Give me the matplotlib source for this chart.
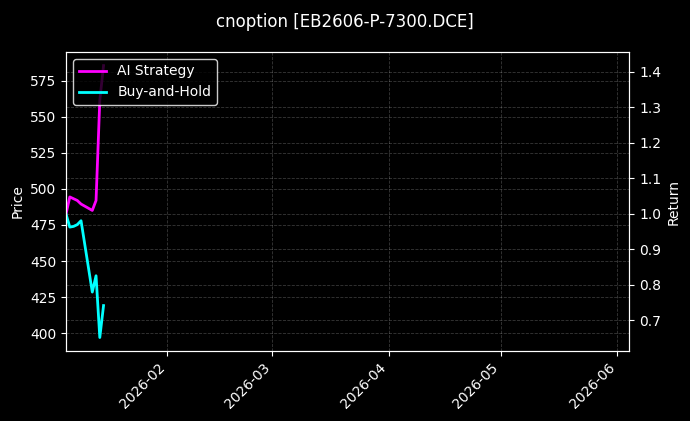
import numpy as np
import pandas as pd
import matplotlib
matplotlib.use('Agg')
from matplotlib import pyplot as plt
import matplotlib.dates as mdates

# trading days shown on the chart
dates = pd.to_datetime(['2026-01-05', '2026-01-06', '2026-01-07', '2026-01-08', '2026-01-09',
                        '2026-01-12', '2026-01-13', '2026-01-14', '2026-01-15'])
ai_strategy = [1.000, 1.048, 1.043, 1.038, 1.028, 1.010, 1.038, 1.320, 1.418]
buy_and_hold = [1.000, 0.963, 0.965, 0.970, 0.981, 0.780, 0.826, 0.652, 0.742]

x_range = [pd.Timestamp('2026-01-05'), pd.Timestamp('2026-06-04 05:00')]
price_range = [387.5, 595.0]
title = 'cnoption [EB2606-P-7300.DCE]'


def main():
    plt.style.use('dark_background')
    fig = plt.figure(figsize=(6.9, 4.21), dpi=100)
    ax1 = fig.add_axes([0.0957, 0.166, 0.8166, 0.7105])
    ax2 = ax1.twinx()

    ax2.plot(dates, ai_strategy, color='#ff00ff', lw=2, label='AI Strategy')
    ax2.plot(dates, buy_and_hold, color='#00ffff', lw=2, label='Buy-and-Hold')

    ax1.set_xlim(x_range[0], x_range[1])
    ax1.set_ylim(price_range)
    ax1.set_yticks(np.arange(400, 576, 25))
    ax2.set_yticks(np.arange(0.7, 1.41, 0.1))

    ax1.grid(True, ls='--', lw=0.6, alpha=0.22)
    ax2.grid(True, ls='--', lw=0.6, alpha=0.22)

    ax1.set_ylabel('Price')
    ax2.set_ylabel('Return')

    ax1.xaxis.set_major_locator(mdates.MonthLocator())
    ax1.xaxis.set_major_formatter(mdates.DateFormatter('%Y-%m'))
    plt.setp(ax1.get_xticklabels(), rotation=45, ha='right')

    ax2.legend(loc='upper left', facecolor='black', edgecolor='white', framealpha=0.8)

    fig.suptitle(title, fontsize=12, y=0.97)
    plt.savefig('out.png', dpi=100)


if __name__ == '__main__':
    main()
